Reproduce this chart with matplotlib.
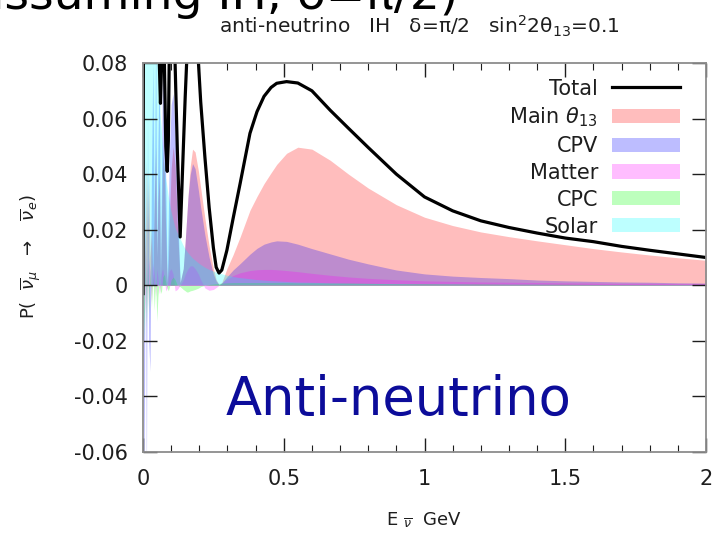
"""Anti-neutrino appearance probability, split into its terms (IH, delta=pi/2)."""

import matplotlib

matplotlib.use("Agg")
import matplotlib.pyplot as plt
from matplotlib.lines import Line2D
from matplotlib.patches import Patch
from matplotlib.ticker import FuncFormatter, MultipleLocator

# neutrino energy in GeV
energy = [
    0.000, 0.004, 0.008, 0.012, 0.016, 0.020, 0.025, 0.030, 0.035, 0.040, 0.045,
    0.049, 0.053, 0.058, 0.062, 0.066, 0.070, 0.076, 0.081, 0.086, 0.090, 0.093,
    0.100, 0.107, 0.114, 0.122, 0.132, 0.143, 0.150, 0.155, 0.160, 0.168, 0.176,
    0.185, 0.197, 0.205, 0.220, 0.235, 0.250, 0.260, 0.270, 0.280, 0.298, 0.320,
    0.345, 0.380, 0.405, 0.430, 0.455, 0.475, 0.510, 0.550, 0.600, 0.665, 0.730, 0.800, 0.900,
    1.000, 1.100, 1.200, 1.300, 1.400, 1.500, 1.600, 1.700, 1.800, 1.900, 2.000,
]

p_total = [
    -0.003, 0.25, 0.40, 0.20, 0.35, 0.30, 0.45, 0.25, 0.35, 0.20, 0.22,
    0.18, 0.14, 0.08, 0.0655, 0.08, 0.16, 0.08, 0.05, 0.041, 0.052, 0.08,
    0.16, 0.15, 0.08, 0.0486, 0.0174, 0.0486, 0.068, 0.08, 0.095, 0.11, 0.115,
    0.11, 0.08, 0.066, 0.046, 0.028, 0.0135, 0.0065, 0.0044, 0.0055, 0.0126, 0.024,
    0.0366, 0.0547, 0.0625, 0.068, 0.0712, 0.0727, 0.0733, 0.0728, 0.070, 0.063, 0.0565, 0.0496, 0.040,
    0.0318, 0.0268, 0.0232, 0.0208, 0.0188, 0.0170, 0.0157, 0.0140, 0.0126, 0.0113, 0.0100,
]

p_main = [
    0.0, 0.03, 0.01, 0.045, 0.02, 0.04, 0.01, 0.02, 0.0, 0.03, 0.05,
    0.01, 0.03, 0.04, 0.002, 0.025, 0.048, 0.04, 0.018, 0.001, 0.008, 0.02,
    0.042, 0.05, 0.043, 0.022, 0.001, 0.006, 0.016, 0.024, 0.032, 0.043, 0.049,
    0.048, 0.041, 0.035, 0.024, 0.014, 0.006, 0.002, 0.0003, 0.001, 0.006, 0.011,
    0.0174, 0.027, 0.032, 0.0366, 0.0405, 0.0435, 0.0475, 0.0497, 0.049, 0.045, 0.040, 0.035, 0.029,
    0.0245, 0.0215, 0.0192, 0.0175, 0.016, 0.0146, 0.0132, 0.012, 0.0109, 0.0099, 0.009,
]

p_cpv = [
    0.0, -0.09, 0.05, -0.08, 0.06, -0.02, -0.031, 0.04, 0.08, 0.02, 0.09,
    0.01, 0.05, 0.08, 0.003, 0.04, 0.09, 0.08, 0.035, 0.001, 0.025, 0.045,
    0.065, 0.069, 0.055, 0.03, 0.001, 0.006, 0.016, 0.024, 0.032, 0.040, 0.0438,
    0.042, 0.034, 0.028, 0.018, 0.010, 0.004, 0.0015, 0.0002, 0.0008, 0.003, 0.0055,
    0.0078, 0.0112, 0.0133, 0.0148, 0.0156, 0.016, 0.0158, 0.0148, 0.0132, 0.0113, 0.0094, 0.0077, 0.0055,
    0.0041, 0.0033, 0.0028, 0.0024, 0.0019, 0.0016, 0.0014, 0.0012, 0.0011, 0.0009, 0.0008,
]

p_matter = [
    0.0, 0.01, -0.01, 0.012, -0.008, 0.01, 0.005, -0.006, 0.008, 0.004, -0.004,
    0.006, 0.003, -0.003, 0.0, 0.005, 0.006, 0.002, -0.002, -0.001, 0.003, 0.005,
    0.006, 0.004, -0.002, -0.0015, 0.0, 0.002, 0.004, 0.005, 0.006, 0.007, 0.007,
    0.006, 0.004, 0.002, -0.001, -0.0018, -0.0015, -0.0008, 0.0, 0.0008, 0.0022, 0.0035,
    0.0045, 0.0053, 0.0056, 0.0057, 0.0057, 0.0056, 0.0053, 0.0049, 0.0043, 0.0036, 0.003, 0.0025, 0.002,
    0.0016, 0.0014, 0.0012, 0.0011, 0.001, 0.0009, 0.0008, 0.0007, 0.0007, 0.0006, 0.0006,
]

p_cpc = [
    0.0, -0.02, 0.01, -0.015, 0.008, -0.01, 0.006, -0.008, 0.004, -0.009, 0.003,
    -0.013, -0.004, 0.002, -0.003, -0.002, 0.003, 0.004, 0.001, -0.001, -0.002, -0.001,
    0.002, 0.003, 0.002, 0.0, -0.0005, -0.0015, -0.002, -0.0024, -0.0024, -0.002, -0.0018,
    -0.0015, -0.001, -0.0005, 0.0, 0.0003, 0.0005, 0.0006, 0.0007, 0.0008, 0.0009, 0.001,
    0.001, 0.001, 0.001, 0.001, 0.001, 0.001, 0.001, 0.0009, 0.0009, 0.0008, 0.0008, 0.0007, 0.0006,
    0.0006, 0.0005, 0.0005, 0.0004, 0.0004, 0.0004, 0.0003, 0.0003, 0.0003, 0.0003, 0.0003,
]

p_solar = [
    0.3, 0.35, 0.3, 0.4, 0.35, 0.45, 0.4, 0.3, 0.22, 0.17, 0.13,
    0.11, 0.11, 0.09, 0.062, 0.057, 0.051, 0.044, 0.039, 0.036, 0.033, 0.031,
    0.027, 0.024, 0.021, 0.019, 0.017, 0.0145, 0.0132, 0.0124, 0.0117, 0.0107, 0.0098,
    0.009, 0.008, 0.0074, 0.0064, 0.0056, 0.005, 0.0046, 0.0043, 0.004, 0.0035, 0.003,
    0.0026, 0.0022, 0.0019, 0.0017, 0.0015, 0.0014, 0.0012, 0.001, 0.0009, 0.0007, 0.0006, 0.0005, 0.0004,
    0.0003, 0.0003, 0.0002, 0.0002, 0.0002, 0.0001, 0.0001, 0.0001, 0.0001, 0.0001, 0.0001,
]

terms = [
    ("Main $\\theta_{13}$", p_main, "red"),
    ("CPV", p_cpv, "blue"),
    ("Matter", p_matter, "magenta"),
    ("CPC", p_cpc, "lime"),
    ("Solar", p_solar, "cyan"),
]
fill_alpha = 0.26
ink = "#1e1e1e"

fig = plt.figure(figsize=(7.2, 5.34), dpi=100)
ax = fig.add_axes([143 / 720, 1 - 452 / 534, 563 / 720, 389 / 534])

for label, vals, color in terms:
    ax.fill_between(energy, 0, vals, color=color, alpha=fill_alpha, lw=0)
ax.plot(energy, p_total, color="black", lw=2.3)

ax.set_xlim(0, 2)
ax.set_ylim(-0.06, 0.08)
ax.xaxis.set_major_locator(MultipleLocator(0.5))
ax.xaxis.set_minor_locator(MultipleLocator(0.1))
ax.yaxis.set_major_locator(MultipleLocator(0.02))
fmt = FuncFormatter(lambda v, pos: f"{round(v, 4):g}")
ax.xaxis.set_major_formatter(fmt)
ax.yaxis.set_major_formatter(fmt)
ax.tick_params(which="both", direction="in", top=True, right=True,
               color=ink, labelsize=15, labelcolor=ink)
ax.tick_params(which="major", length=10, width=1)
ax.tick_params(which="minor", length=5, width=0.8)
ax.tick_params(axis="y", pad=11)
ax.tick_params(axis="x", pad=12)
for sp in ax.spines.values():
    sp.set_color("#8c8c8c")
    sp.set_linewidth(1.3)

fig.text(0.042, 0.519, "P(  $\\overline{\\nu}_{\\mu}$  $\\rightarrow$   $\\overline{\\nu}_e$)",
         rotation=90, ha="center", va="center", fontsize=13, color=ink)
fig.text(0.589, 0.026, "E $_{\\overline{\\nu}}$  GeV", ha="center", va="center",
         fontsize=13, color=ink)
fig.text(0.583, 0.951, "anti-neutrino   IH   \u03b4=\u03c0/2   sin$^2$2\u03b8$_{13}$=0.1",
         ha="center", va="center", fontsize=14.5, color=ink)
fig.text(458 / 720, 1 - 9 / 534, "(assuming IH, \u03b4=\u03c0/2)", ha="right",
         va="baseline", fontsize=34, color="black")
fig.text(0.553, 0.251, "Anti-neutrino", ha="center", va="center",
         fontsize=38, color="#0c0c9a")

handles = [Line2D([], [], color="black", lw=2.3)]
handles += [Patch(facecolor=c, alpha=fill_alpha, lw=0) for _, _, c in terms]
labels = ["Total"] + [lab for lab, _, _ in terms]
ax.legend(handles, labels, loc="upper right", bbox_to_anchor=(0.954, 0.960),
          frameon=False, markerfirst=False, fontsize=15, handlelength=3.27,
          handleheight=0.67, labelspacing=0.33, borderpad=0, borderaxespad=0,
          handletextpad=0.67, labelcolor=ink)

fig.savefig("out.png", dpi=100)
plt.close()
